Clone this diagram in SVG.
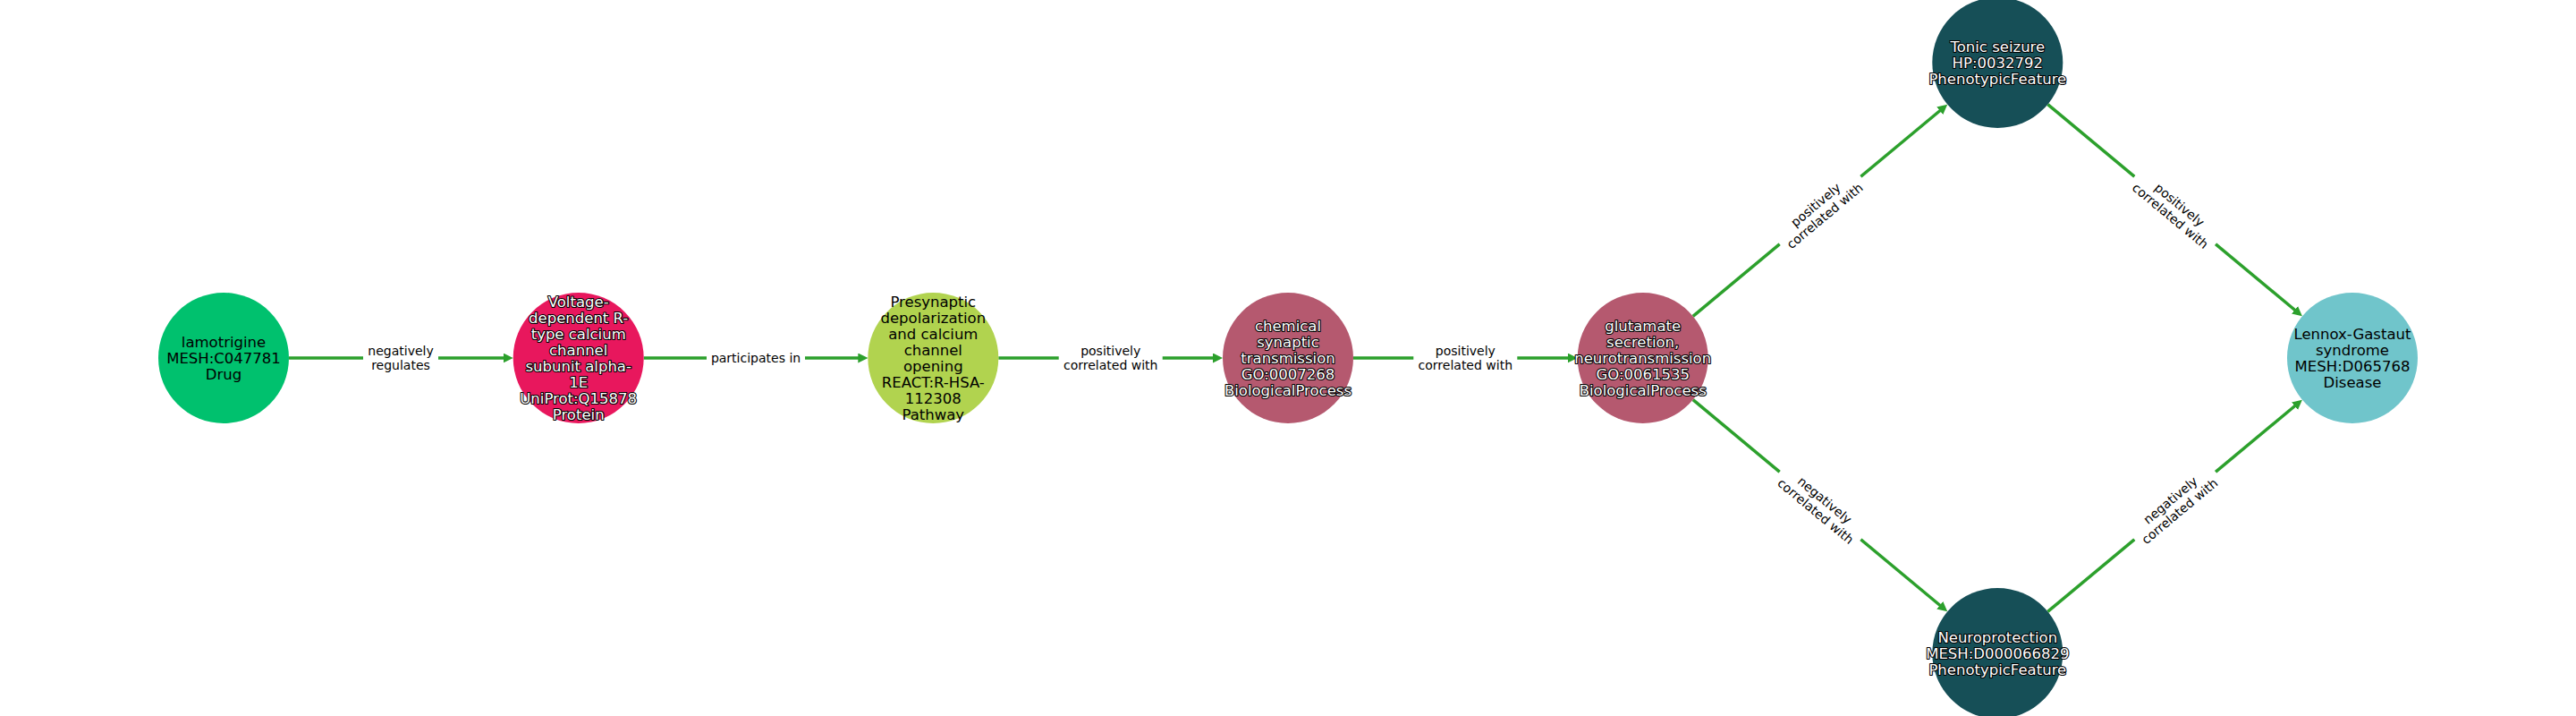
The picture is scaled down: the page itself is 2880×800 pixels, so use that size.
<svg xmlns="http://www.w3.org/2000/svg" width="2880" height="800" viewBox="0 0 2880 800">
<style>
.edge{stroke:#2ca02c;stroke-width:3.5;fill:none;marker-end:url(#arr)}
.lbg{fill:#ffffff;stroke:none}
.elab{font-family:"DejaVu Sans",sans-serif;font-size:14px;fill:#000;text-anchor:middle}
.nt{font-family:"DejaVu Sans",sans-serif;font-size:16.5px;text-anchor:middle;fill:#000}
.nto{font-family:"DejaVu Sans",sans-serif;font-size:16.5px;text-anchor:middle;fill:#fff;stroke:#000;stroke-width:2.2;paint-order:stroke;stroke-linejoin:round}
</style>
<defs>
<marker id="arr" markerUnits="userSpaceOnUse" markerWidth="11" markerHeight="11" refX="2" refY="5.5" orient="auto">
<path d="M0,0 L11,5.5 L0,11 z" fill="#2ca02c"/>
</marker>
</defs>
<rect width="2880" height="800" fill="#ffffff"/>
<g id="connectors">
<line class="edge" x1="323" y1="400" x2="564.7" y2="400"/>
<line class="edge" x1="719.7" y1="400" x2="961.3" y2="400"/>
<line class="edge" x1="1116.3" y1="400" x2="1358" y2="400"/>
<line class="edge" x1="1513" y1="400" x2="1754.7" y2="400"/>
<line class="edge" x1="1892.8" y1="353.3" x2="2170.3" y2="122.5"/>
<line class="edge" x1="1892.8" y1="446.7" x2="2170.3" y2="677.5"/>
<line class="edge" x1="2289.4" y1="116.7" x2="2567" y2="347.5"/>
<line class="edge" x1="2289.4" y1="683.3" x2="2567" y2="452.5"/>
<g transform="translate(448,400)"><rect class="lbg" x="-42" y="-18" width="84" height="36"/><text class="elab" y="-3">negatively</text><text class="elab" y="13">regulates</text></g>
<g transform="translate(845,400)"><rect class="lbg" x="-55" y="-10" width="110" height="20"/><text class="elab" y="5">participates in</text></g>
<g transform="translate(1241.7,400)"><rect class="lbg" x="-58" y="-18" width="116" height="36"/><text class="elab" y="-3">positively</text><text class="elab" y="13">correlated with</text></g>
<g transform="translate(1638.3,400)"><rect class="lbg" x="-58" y="-18" width="116" height="36"/><text class="elab" y="-3">positively</text><text class="elab" y="13">correlated with</text></g>
<g transform="translate(2035,235) rotate(-39.77)"><rect class="lbg" x="-59" y="-18" width="118" height="36"/><text class="elab" y="-3">positively</text><text class="elab" y="13">correlated with</text></g>
<g transform="translate(2035,565) rotate(39.77)"><rect class="lbg" x="-59" y="-18" width="118" height="36"/><text class="elab" y="-3">negatively</text><text class="elab" y="13">correlated with</text></g>
<g transform="translate(2431.7,235) rotate(39.77)"><rect class="lbg" x="-59" y="-18" width="118" height="36"/><text class="elab" y="-3">positively</text><text class="elab" y="13">correlated with</text></g>
<g transform="translate(2431.7,565) rotate(-39.77)"><rect class="lbg" x="-59" y="-18" width="118" height="36"/><text class="elab" y="-3">negatively</text><text class="elab" y="13">correlated with</text></g>
</g>
<g id="n-lamotrigine">
<circle cx="250" cy="400" r="73" fill="#00c16e"/>
<text class="nt" x="250" y="387.8">lamotrigine</text>
<text class="nt" x="250" y="405.8">MESH:C047781</text>
<text class="nt" x="250" y="423.8">Drug</text>
</g>
<g id="n-voltage">
<circle cx="646.7" cy="400" r="73" fill="#e8175d"/>
<text class="nto" x="646.7" y="342.8">Voltage-</text>
<text class="nto" x="646.7" y="360.8">dependent R-</text>
<text class="nto" x="646.7" y="378.8">type calcium</text>
<text class="nto" x="646.7" y="396.8">channel</text>
<text class="nto" x="646.7" y="414.8">subunit alpha-</text>
<text class="nto" x="646.7" y="432.8">1E</text>
<text class="nto" x="646.7" y="450.8">UniProt:Q15878</text>
<text class="nto" x="646.7" y="468.8">Protein</text>
</g>
<g id="n-presynaptic">
<circle cx="1043.3" cy="400" r="73" fill="#b1d34f"/>
<text class="nt" x="1043.3" y="342.8">Presynaptic</text>
<text class="nt" x="1043.3" y="360.8">depolarization</text>
<text class="nt" x="1043.3" y="378.8">and calcium</text>
<text class="nt" x="1043.3" y="396.8">channel</text>
<text class="nt" x="1043.3" y="414.8">opening</text>
<text class="nt" x="1043.3" y="432.8">REACT:R-HSA-</text>
<text class="nt" x="1043.3" y="450.8">112308</text>
<text class="nt" x="1043.3" y="468.8">Pathway</text>
</g>
<g id="n-chemical">
<circle cx="1440" cy="400" r="73" fill="#b5596f"/>
<text class="nto" x="1440" y="369.8">chemical</text>
<text class="nto" x="1440" y="387.8">synaptic</text>
<text class="nto" x="1440" y="405.8">transmission</text>
<text class="nto" x="1440" y="423.8">GO:0007268</text>
<text class="nto" x="1440" y="441.8">BiologicalProcess</text>
</g>
<g id="n-glutamate">
<circle cx="1836.7" cy="400" r="73" fill="#b5596f"/>
<text class="nto" x="1836.7" y="369.8">glutamate</text>
<text class="nto" x="1836.7" y="387.8">secretion,</text>
<text class="nto" x="1836.7" y="405.8">neurotransmission</text>
<text class="nto" x="1836.7" y="423.8">GO:0061535</text>
<text class="nto" x="1836.7" y="441.8">BiologicalProcess</text>
</g>
<g id="n-tonic">
<circle cx="2233.3" cy="70" r="73" fill="#164f57"/>
<text class="nto" x="2233.3" y="57.8">Tonic seizure</text>
<text class="nto" x="2233.3" y="75.8">HP:0032792</text>
<text class="nto" x="2233.3" y="93.8">PhenotypicFeature</text>
</g>
<g id="n-neuro">
<circle cx="2233.3" cy="730" r="73" fill="#164f57"/>
<text class="nto" x="2233.3" y="717.8">Neuroprotection</text>
<text class="nto" x="2233.3" y="735.8">MESH:D000066829</text>
<text class="nto" x="2233.3" y="753.8">PhenotypicFeature</text>
</g>
<g id="n-lennox">
<circle cx="2630" cy="400" r="73" fill="#70c5cb"/>
<text class="nt" x="2630" y="378.8">Lennox-Gastaut</text>
<text class="nt" x="2630" y="396.8">syndrome</text>
<text class="nt" x="2630" y="414.8">MESH:D065768</text>
<text class="nt" x="2630" y="432.8">Disease</text>
</g>
</svg>
